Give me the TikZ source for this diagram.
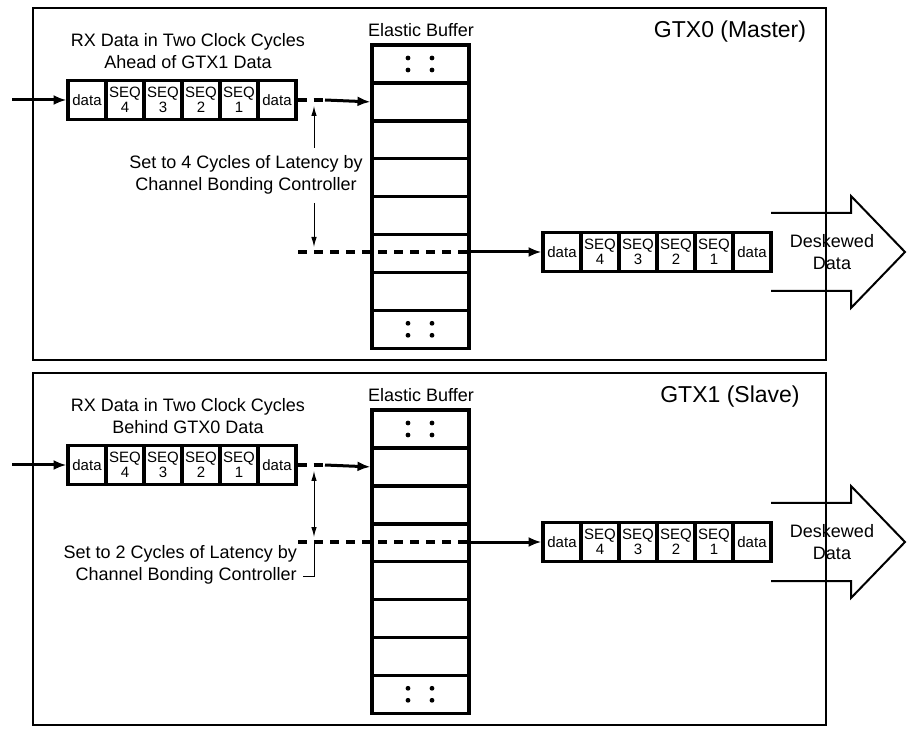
\documentclass[tikz,border=0pt]{standalone}
\usepackage{fontspec}
\setmainfont{Liberation Sans}
\usetikzlibrary{arrows.meta}
\tikzset{
  frame/.style={line width=2.6pt},
  box/.style={draw,line width=3.4pt,minimum width=38pt,minimum height=39pt,inner sep=0pt,outer sep=0pt,font=\fontsize{15}{15}\selectfont,align=center},
  bcell/.style={draw,line width=3.4pt,minimum width=97pt,minimum height=38pt,inner sep=0pt,outer sep=0pt},
  lbl/.style={font=\fontsize{18}{22}\selectfont,align=center,inner sep=0pt},
  ttl/.style={font=\fontsize{23}{24}\selectfont,inner sep=0pt},
  thick arr/.style={line width=3pt,-{Latex[length=13pt,width=10pt]}},
  dashln/.style={line width=3.4pt,dash pattern=on 9pt off 7pt},
  thin arr/.style={line width=1pt},
  tip/.style={-{Latex[length=10pt,width=5.5pt]}}
}
\newcommand\mypanel[5]{% #1 shift, #2 prefix, #3 dashed y, #4 title, #5 rx text
\begin{scope}[yshift=-#1pt]
\draw[frame] (33,8) rectangle (826,360);
\node[ttl] (#2t) at (730,32) {#4};
\node[lbl] (#2eb) at (421,30) {Elastic Buffer};
\node[lbl] (#2rx) at (188,51) {#5};
\foreach \i in {0,...,7} \node[bcell] (#2b\i) at (420.5,64+37.9*\i) {};
\foreach \yy in {64,329.3} {
  \foreach \xx in {408,432} {\fill (\xx,\yy-6) circle (2.4pt); \fill (\xx,\yy+6) circle (2.4pt);}
}
\node[box] (#2i0) at (87,100) {data};
\node[box,anchor=west] (#2i1) at (#2i0.east) {SEQ\\4};
\node[box,anchor=west] (#2i2) at (#2i1.east) {SEQ\\3};
\node[box,anchor=west] (#2i3) at (#2i2.east) {SEQ\\2};
\node[box,anchor=west] (#2i4) at (#2i3.east) {SEQ\\1};
\node[box,anchor=west] (#2i5) at (#2i4.east) {data};
\coordinate (#2in) at (12,100);
\draw[thick arr] (#2in) -- ([xshift=-1.5pt]#2i0.west);
\coordinate (#2d1) at (325,100);
\draw[dashln] ([xshift=1.5pt]#2i5.east) -- (#2d1);
\draw[thick arr] (#2d1) -- ([xshift=-1.5pt]#2b1.west);
\node[box] (#2o0) at (562,#3) {data};
\node[box,anchor=west] (#2o1) at (#2o0.east) {SEQ\\4};
\node[box,anchor=west] (#2o2) at (#2o1.east) {SEQ\\3};
\node[box,anchor=west] (#2o3) at (#2o2.east) {SEQ\\2};
\node[box,anchor=west] (#2o4) at (#2o3.east) {SEQ\\1};
\node[box,anchor=west] (#2o5) at (#2o4.east) {data};
\coordinate (#2ds) at (298,#3);
\coordinate (#2de) at (470,#3);
\draw[dashln] (#2ds) -- (#2de);
\draw[thick arr] (#2de) -- ([xshift=-1.5pt]#2o0.west);
\draw[line width=2pt] (#2o5.east) ++(0,-39) -- (851,#3-39) -- (851,#3-56) -- (905,#3) -- (851,#3+56) -- (851,#3+39) -- ([yshift=-39pt]#2o5.east);
\node[lbl,align=center] (#2dk) at (832,#3) {Deskewed\\Data};
\end{scope}}
\begin{document}
\begin{tikzpicture}[x=1pt,y=-1pt]
\useasboundingbox (0,0) rectangle (914,735);
\mypanel{0}{a}{252}{GTX0 (Master)}{RX Data in Two Clock Cycles\\Ahead of GTX1 Data}
\mypanel{365}{b}{177}{GTX1 (Slave)}{RX Data in Two Clock Cycles\\Behind GTX0 Data}
% top latency annotation
\node[lbl] (alat) at (246,174.5) {Set to 4 Cycles of Latency by\\Channel Bonding Controller};
\coordinate (au) at (314,106);
\coordinate (ad) at (314,247);
\draw[thin arr,tip] (314,148) -- (au);
\draw[thin arr,tip] (314,203) -- (ad);
% bottom latency annotation
\node[lbl,align=right,anchor=east] (blat) at (297,564.5) {Set to 2 Cycles of Latency by\\Channel Bonding Controller};
\coordinate (bu) at (314,471);
\coordinate (bd) at (314,537);
\draw[thin arr,{Latex[length=10pt,width=5.5pt]}-{Latex[length=10pt,width=5.5pt]}] (bu) -- (bd);
\draw[thin arr] (314,542) -- (314,576) -- (303,576);
\end{tikzpicture}
\end{document}
